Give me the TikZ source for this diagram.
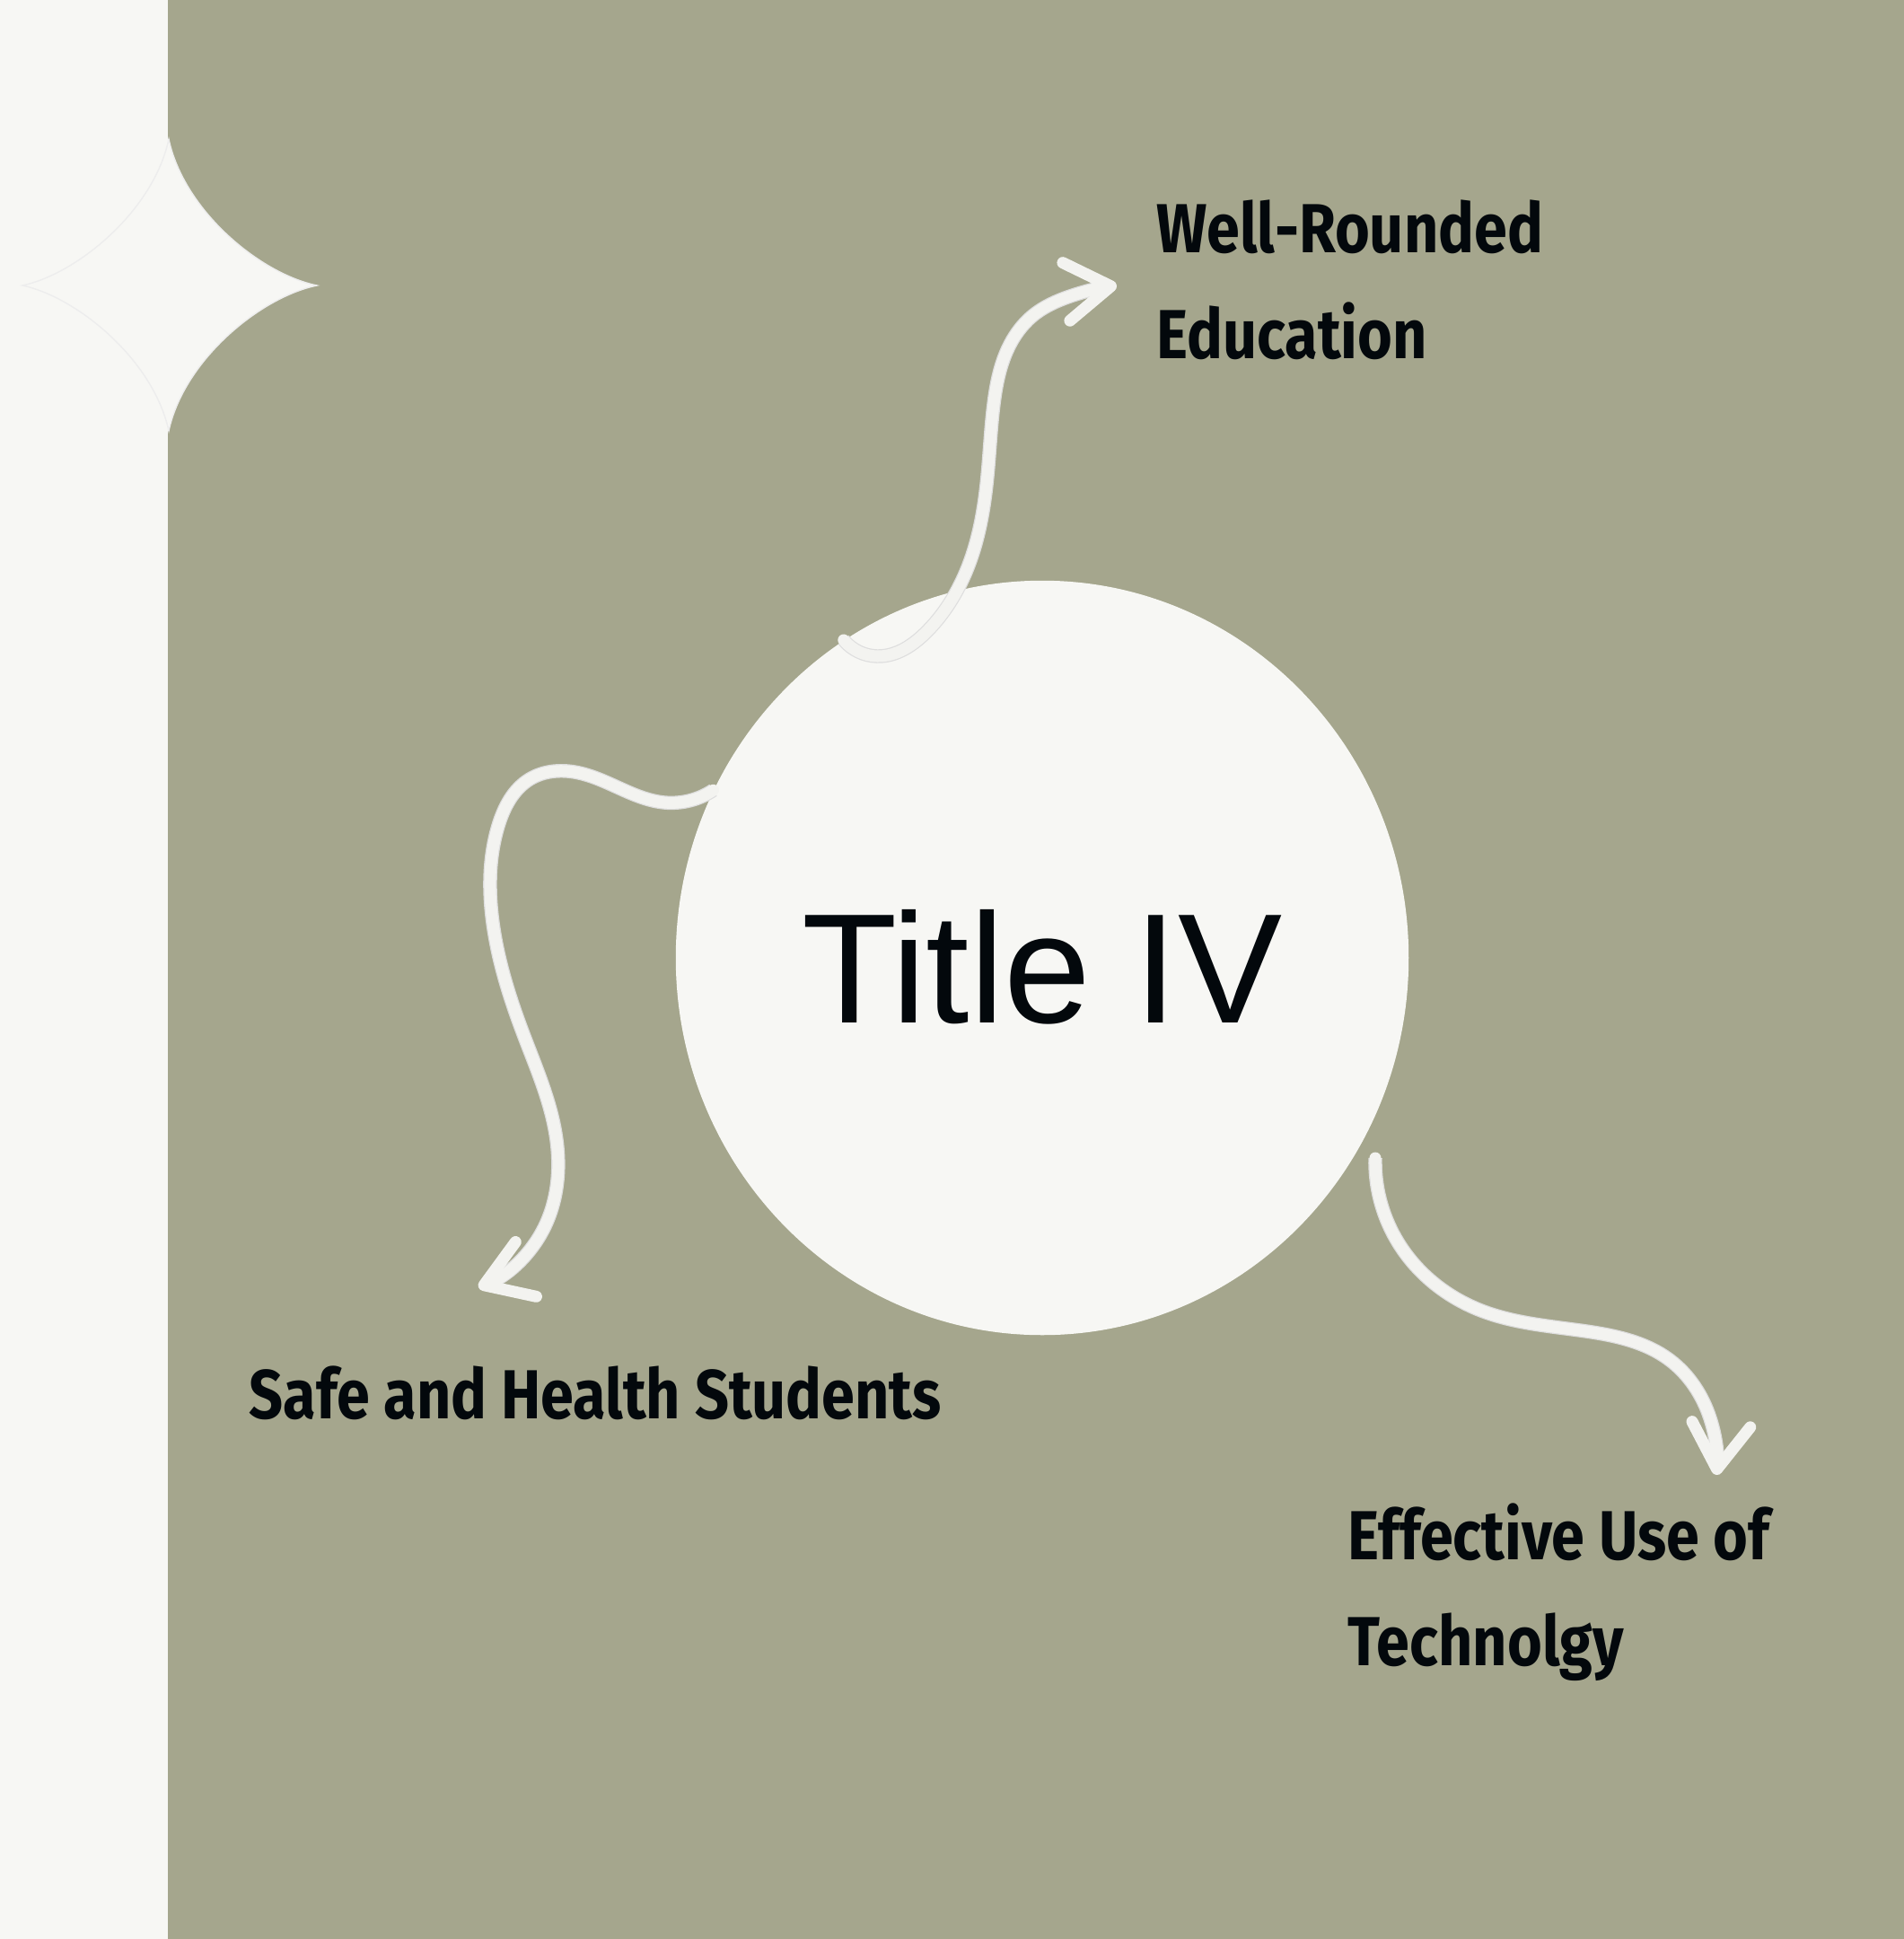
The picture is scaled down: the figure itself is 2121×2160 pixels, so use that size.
\documentclass[tikz,border=0pt]{standalone}
\usepackage{fontspec}
\setmainfont{Liberation Sans}
\newfontfamily\topicfont[FakeStretch=0.86]{Fira Sans}
\usetikzlibrary{arrows.meta,hobby,shapes.geometric}
\definecolor{sage}{HTML}{A5A68D}
\definecolor{paper}{HTML}{F7F7F4}
\definecolor{chalk}{HTML}{F3F3F0}
\definecolor{ink}{HTML}{03080C}
\tikzstyle{hub} = [ellipse, fill=paper, inner sep=0,
  minimum width=8.16cm, minimum height=8.4cm,
  text height=1.45cm, text depth=0cm,
  text=ink, font=\fontsize{49.5}{52}\selectfont]
\tikzstyle{topic} = [anchor=base west, align=left, inner sep=0, text=ink,
  font=\topicfont\bfseries\fontsize{22}{33.3}\selectfont]
\tikzstyle{squiggle} = [draw=chalk, line width=3.7pt, line cap=round,
  preaction={draw=black!13, line width=4.4pt, arrows=-, shorten >=3pt},
  -{Straight Barb[length=5mm, width=6.5mm, round]}]

\begin{document}
\begin{tikzpicture}[x=0.01cm, y=-0.01cm, use Hobby shortcut]
    \useasboundingbox (0,0) rectangle (2121,2160);
    \fill[sage] (0,0) rectangle (2121,2160);
    \fill[paper] (0,0) rectangle (187,2160);

    % sparkle on the edge
    \filldraw[fill=paper, draw=black!7, line width=0.4pt]
      (188,155) .. controls (205,235) and (290,305) .. (353,318)
                .. controls (290,331) and (205,401) .. (188,480)
                .. controls (171,401) and (86,331) .. (25,318)
                .. controls (86,305) and (171,235) .. cycle;

    \node[hub] (title) at (1161,1067) {Title IV};

    \node[topic] (wellrounded) at (1288,399) {Well-Rounded\\Education};
    \node[topic] (safe) at (277,1580) {Safe and Health Students};
    \node[topic] (effective) at (1501,1855) {Effective Use of\\Technolgy};

    \coordinate (wr tip) at (1244,318);
    \coordinate (sh tip) at (533,1434);
    \coordinate (et start) at (1532,1290);
    \coordinate (et tip) at (1912,1643);

    \draw[squiggle] (title.122) .. (977,731) .. (1033,703) .. (1080,627)
      .. (1100,530) .. (1107,450) .. (1122,390) .. (1150,352) .. (1192,330)
      .. (wr tip);
    \draw[squiggle] (title.153) .. (740,894) .. (690,878) .. (640,860)
      .. (590,868) .. (555,920) .. (548,1020) .. (583,1152) .. (620,1270)
      .. (605,1370) .. (sh tip);
    \draw[squiggle] (et start) .. (1555,1380) .. (1650,1460) .. (1767,1483)
      .. (1860,1515) .. (1905,1580) .. (et tip);
\end{tikzpicture}
\end{document}
